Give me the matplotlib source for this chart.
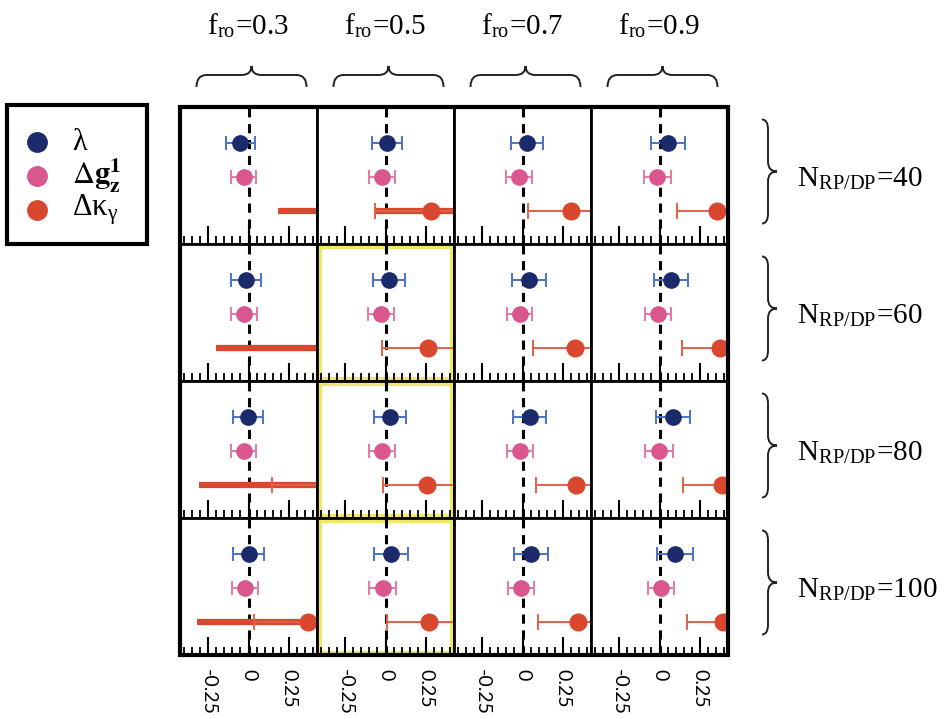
import numpy as np
import matplotlib
matplotlib.use("Agg")
import matplotlib.pyplot as plt
from matplotlib.patches import Rectangle
from matplotlib.path import Path
from matplotlib.patches import PathPatch
from matplotlib.ticker import FixedLocator, NullLocator

plt.rcParams['axes.unicode_minus'] = False
plt.rcParams['mathtext.fontset'] = 'stix'

# column / row labels
f_ro = ["0.3", "0.5", "0.7", "0.9"]
n_rpdp = ["40", "60", "80", "100"]
series_names = [r"$\mathregular{\lambda}$", r"$\Delta\mathbf{g}_{\mathbf{z}}^{\mathbf{1}}$",
                r"$\mathregular{\Delta\kappa_{\gamma}}$"]
major_ticks = [-0.25, 0, 0.25]
tick_labels = ["-0.25", "0", "0.25"]

# rows = N_RP/DP (40, 60, 80, 100), columns = f_ro (0.3 .. 0.9)
lam_val = [[-0.050, 0.010, 0.030, 0.052],
           [-0.015, 0.022, 0.038, 0.071],
           [-0.004, 0.027, 0.044, 0.086],
           [0.000, 0.033, 0.055, 0.097]]
lam_err = [[0.090, 0.095, 0.100, 0.105],
           [0.093, 0.100, 0.105, 0.107],
           [0.094, 0.100, 0.103, 0.105],
           [0.094, 0.104, 0.105, 0.113]]
dg_val = [[-0.031, -0.022, -0.024, -0.013],
          [-0.027, -0.027, -0.018, -0.007],
          [-0.031, -0.022, -0.018, -0.002],
          [-0.022, -0.018, -0.011, 0.009]]
dg_err = [[0.080, 0.082, 0.080, 0.083],
          [0.080, 0.080, 0.078, 0.080],
          [0.080, 0.083, 0.081, 0.085],
          [0.078, 0.083, 0.080, 0.080]]
dk_val = [[0.60, 0.281, 0.299, 0.358],
          [0.55, 0.261, 0.325, 0.374],
          [0.50, 0.259, 0.332, 0.385],
          [0.372, 0.272, 0.347, 0.396]]
dk_err = [[0.150, 0.347, 0.266, 0.250],
          [0.100, 0.283, 0.260, 0.237],
          [0.356, 0.274, 0.250, 0.237],
          [0.339, 0.265, 0.248, 0.228]]
# wide (thick) error band, 0 = none
dk_wide = [[0.416, 0.347, 0, 0],
           [0.754, 0, 0, 0],
           [0.807, 0, 0, 0],
           [0.693, 0, 0, 0]]
# highlighted panels (row, col)
highlight = [(1, 1), (2, 1), (3, 1)]

c_lam, e_lam = "#1b2a6b", "#4a72c8"
c_dg, e_dg = "#d9568e", "#e37aa6"
c_dk, e_dk = "#d9482e", "#e0604a"

W, H = 948, 719
fig = plt.figure(figsize=(W / 100, H / 100), dpi=100)

# minor tick positions every 0.05 (the long ones come from the axis)
minor_ticks = [t for t in np.round(np.arange(-0.40, 0.401, 0.05), 2) if t not in major_ticks]

x0, y0, pw, ph = 180, 107, 137, 137
for r in range(4):
    for c in range(4):
        ax = fig.add_axes([(x0 + c * pw) / W, 1 - (y0 + (r + 1) * ph) / H, pw / W, ph / H])
        ax.set_xlim(-0.425, 0.425)
        ax.set_ylim(0.05, 4.05)
        ax.xaxis.set_major_locator(FixedLocator(major_ticks))
        ax.xaxis.set_minor_locator(NullLocator())
        ax.tick_params(axis="x", which="major", direction="in", length=13, width=1.5,
                       pad=10, labelsize=14)
        ax.tick_params(axis="y", which="both", left=False, labelleft=False)
        # short ticks drawn straight onto the axes, x in data, y in axes fraction
        ax.vlines(minor_ticks, 0, 0.058, transform=ax.get_xaxis_transform(),
                  color="k", lw=1.3, zorder=4)
        ax.axvline(0, color="k", ls=(0, (3, 2.2)), lw=2.2, zorder=1)
        ax.errorbar(lam_val[r][c], 3, xerr=lam_err[r][c], fmt="o", color=c_lam, ecolor=e_lam,
                    elinewidth=1.4, capsize=5, capthick=1.4, markersize=11, zorder=3)
        ax.errorbar(dg_val[r][c], 2, xerr=dg_err[r][c], fmt="o", color=c_dg, ecolor=e_dg,
                    elinewidth=1.4, capsize=5, capthick=1.4, markersize=11, zorder=3)
        if dk_wide[r][c] > 0:
            ax.errorbar(dk_val[r][c], 1, xerr=dk_wide[r][c], fmt="none", ecolor=c_dk,
                        elinewidth=4.5, capsize=0, zorder=2)
        ax.errorbar(dk_val[r][c], 1, xerr=dk_err[r][c], fmt="o", color=c_dk, ecolor=e_dk,
                    elinewidth=1.4, capsize=6, capthick=1.4, markersize=12, zorder=3)
        if r == 3:
            ax.set_xticklabels(tick_labels, rotation=-90, family="Lato")
        else:
            ax.tick_params(axis="x", which="both", labelbottom=False)
        for s in ax.spines.values():
            s.set_linewidth(2)
        if (r, c) in highlight:
            ax.add_patch(Rectangle((0.018, 0.018), 0.964, 0.964, transform=ax.transAxes,
                                   fill=False, ec="#efe76a", lw=3.8, zorder=0.5))

# overlay in pixel coordinates for braces, labels, legend
ov = fig.add_axes([0, 0, 1, 1], facecolor="none")
ov.set_xlim(0, W)
ov.set_ylim(H, 0)
ov.axis("off")
ov.add_patch(Rectangle((x0, y0), 4 * pw, 4 * ph, fill=False, ec="k", lw=3))


def hbrace(xl, xr, ytip, yflat, yend):
    xc = (xl + xr) / 2
    k = 10
    verts = [(xl, yend), (xl, yflat), (xl + k, yflat),
             (xc - k, yflat), (xc, yflat), (xc, ytip),
             (xc, yflat), (xc + k, yflat),
             (xr - k, yflat), (xr, yflat), (xr, yend)]
    codes = [Path.MOVETO, Path.CURVE3, Path.CURVE3,
             Path.LINETO, Path.CURVE3, Path.CURVE3,
             Path.CURVE3, Path.CURVE3,
             Path.LINETO, Path.CURVE3, Path.CURVE3]
    ov.add_patch(PathPatch(Path(verts, codes), fill=False, lw=1.4, ec="#222222"))


def vbrace(yt, yb, xtip, xflat, xend):
    yc = (yt + yb) / 2
    k = 10
    verts = [(xend, yt), (xflat, yt), (xflat, yt + k),
             (xflat, yc - k), (xflat, yc), (xtip, yc),
             (xflat, yc), (xflat, yc + k),
             (xflat, yb - k), (xflat, yb), (xend, yb)]
    codes = [Path.MOVETO, Path.CURVE3, Path.CURVE3,
             Path.LINETO, Path.CURVE3, Path.CURVE3,
             Path.CURVE3, Path.CURVE3,
             Path.LINETO, Path.CURVE3, Path.CURVE3]
    ov.add_patch(PathPatch(Path(verts, codes), fill=False, lw=1.4, ec="#222222"))


for c, f in enumerate(f_ro):
    xc = x0 + (c + 0.5) * pw
    ov.text(xc, 34, r"f$_{\mathregular{ro}}$=" + f, ha="center", va="baseline",
            fontsize=21, family="Liberation Serif")
    hbrace(xc - 52, xc + 58, 66, 75, 87)

for r, n in enumerate(n_rpdp):
    yc = y0 + (r + 0.5) * ph
    vbrace(yc - 56, yc + 48, 777, 768, 762)
    ov.text(797, yc + 3, r"N$_{\mathregular{RP/DP}}$=" + n, ha="left", va="center",
            fontsize=21, family="Liberation Serif")

# legend box
ov.add_patch(Rectangle((7, 105), 140, 139, fill=False, ec="k", lw=3))
for i, (name, col) in enumerate(zip(series_names, [c_lam, c_dg, c_dk])):
    ly = 142 + i * 34
    ov.plot(37, ly, "o", color=col, markersize=14)
    ov.text(72, ly, name, ha="left", va="center", fontsize=22, family="Liberation Serif")

fig.savefig("out.png", dpi=100)
